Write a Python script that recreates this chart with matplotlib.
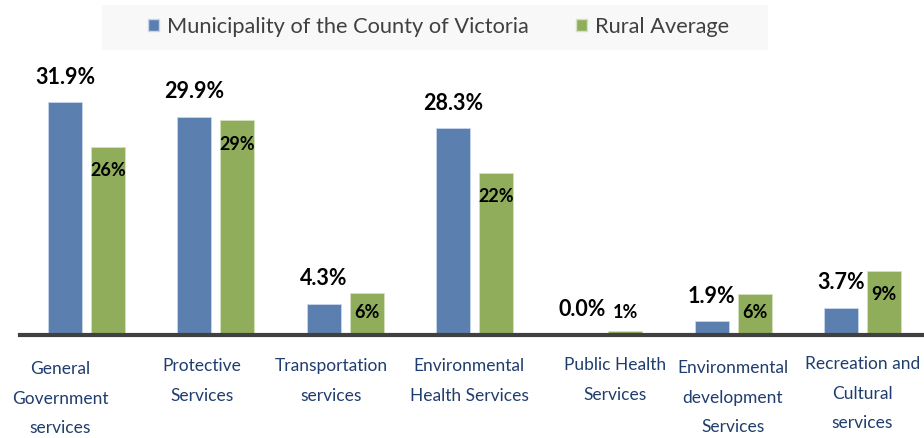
import matplotlib.pyplot as plt
from matplotlib.patches import Rectangle, Patch

plt.rcParams['font.family'] = ['Lato', 'DejaVu Sans']

categories = ["General\nGovernment\nservices", "Protective\nServices", "Transportation\nservices",
              "Environmental\nHealth Services", "Public Health\nServices",
              "Environmental\ndevelopment\nServices", "Recreation and\nCultural\nservices"]
county = [31.9, 29.9, 4.3, 28.3, 0.0, 1.9, 3.7]
rural = [25.8, 29.4, 5.8, 22.2, 0.6, 5.6, 8.8]
series_names = ["Municipality of the County of Victoria", "Rural Average"]

blue = '#5b7fae'
green = '#8fad5b'
navy = '#1f3d6e'

W, H = 924, 438
base_px, top_px = 335, 60
px_per_unit = 7.3
group_px, first_px = 129.3, 86.5

fig = plt.figure(figsize=(W / 100, H / 100), dpi=100)
ax = fig.add_axes([20 / W, (H - base_px) / H, (W - 20) / W, (base_px - top_px) / H])

x = list(range(len(categories)))
bw = 34 / group_px
off = 21.5 / group_px
ax.bar([i - off for i in x], county, width=bw, color=blue, edgecolor='#c9d6ea', linewidth=0.6)
ax.bar([i + off for i in x], rural, width=bw, color=green, edgecolor='#d4e2c0', linewidth=0.6)

ax.set_xlim((20 - first_px) / group_px, (W - first_px) / group_px)
ax.set_ylim(0, (base_px - top_px) / px_per_unit)

for i, v in zip(x, county):
    ax.annotate(f"{v:.1f}%", (i - off, v), xytext=(0, 25 * 0.72), textcoords='offset points',
                ha='center', va='center', fontsize=15.5, fontweight='bold', color='black')
for i, v in zip(x, rural):
    yc = max(v - 24 / px_per_unit, 22 / px_per_unit)
    ax.text(i + off, yc, f"{v:.0f}%", ha='center', va='center', fontsize=13,
            fontweight='bold', color='black')

# category labels sit a little unevenly under the groups
label_dx = [-26, -14, -14, -5, 11, 0, 0]
label_dy = [368, 365, 365, 365, 364, 367, 363]
for i, lab, dx, dy in zip(x, categories, label_dx, label_dy):
    ax.annotate(lab, (i, 0), xycoords=('data', 'axes fraction'),
                xytext=(dx * 0.72, -(dy - base_px - 7) * 0.72), textcoords='offset points',
                ha='center', va='top', multialignment='center', fontsize=12.5,
                color=navy, linespacing=2.05, annotation_clip=False)

for s in ['top', 'right', 'left']:
    ax.spines[s].set_visible(False)
ax.spines['bottom'].set_color('#404040')
ax.spines['bottom'].set_linewidth(3)
ax.set_xticks([])
ax.set_yticks([])

# legend strip
fig.patches.append(Rectangle((102 / W, 1 - 50 / H), 666 / W, 45 / H, transform=fig.transFigure,
                             facecolor='#f8f8f8', edgecolor='none', zorder=0))
handles = [Patch(facecolor=blue, edgecolor='#c9d6ea', label=series_names[0]),
           Patch(facecolor=green, edgecolor='#d4e2c0', label=series_names[1])]
fig.legend(handles=handles, loc='center left', bbox_to_anchor=(148 / W, 1 - 27 / H),
           ncol=2, frameon=False, fontsize=15.7, borderpad=0, borderaxespad=0,
           handlelength=0.5, handleheight=0.5, handletextpad=0.37, columnspacing=2.15,
           labelcolor='#404040')

fig.savefig('out.png', dpi=100)
